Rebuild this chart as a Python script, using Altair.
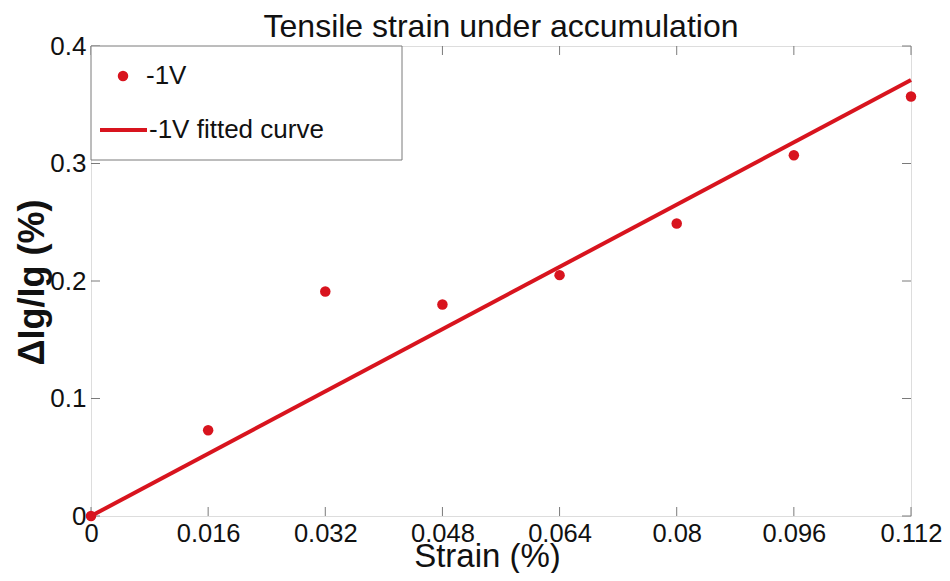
import altair as alt
import pandas as pd

# ---- data ----
strain = [0, 0.016, 0.032, 0.048, 0.064, 0.08, 0.096, 0.112]
delta_ig = [0, 0.073, 0.191, 0.180, 0.205, 0.249, 0.307, 0.357]
fit_strain = [0, 0.112]
fit_delta = [0, 0.371]
x_ticks = [0, 0.016, 0.032, 0.048, 0.064, 0.08, 0.096, 0.112]
y_ticks = [0, 0.1, 0.2, 0.3, 0.4]
series_names = ["-1V", "-1V fitted curve"]

RED = "#d8141e"
GREY = "#7a7a7a"
FONT = "Liberation Sans"
W, H = 820, 470

pts = pd.DataFrame({"strain": strain, "d": delta_ig})
fit = pd.DataFrame({"strain": fit_strain, "d": fit_delta})
xt = pd.DataFrame({"v": x_ticks})
yt = pd.DataFrame({"v": y_ticks})
one = pd.DataFrame({"a": [0]})

xscale = alt.Scale(domain=[0, 0.112], nice=False, zero=False)
yscale = alt.Scale(domain=[0, 0.4], nice=False, zero=False)

xaxis = alt.Axis(values=x_ticks, labelExpr="'' + datum.value", tickSize=0, grid=False,
                 domain=False, labelFontSize=25.5, labelFont=FONT, labelColor="#111",
                 labelPadding=5, labelFlush=False,
                 title="Strain (%)", titleFontSize=33, titleFont=FONT,
                 titleFontWeight="normal", titleColor="#111",
                 titleX=396, titleY=50, titleAlign="center", titleBaseline="alphabetic")
yaxis = alt.Axis(values=y_ticks, labelExpr="'' + datum.value", tickSize=0, grid=False,
                 domain=False, labelFontSize=26, labelFont=FONT, labelColor="#111",
                 labelPadding=5, labelFlush=False,
                 title="ΔIg/Ig (%)", titleFontSize=36, titleFont=FONT,
                 titleFontWeight="bold", titleColor="#111",
                 titleX=-48, titleY=236, titleAlign="center", titleBaseline="alphabetic",
                 titleAngle=270)

points = alt.Chart(pts).mark_point(filled=True, size=110, color=RED, opacity=1).encode(
    x=alt.X("strain:Q", scale=xscale, axis=xaxis),
    y=alt.Y("d:Q", scale=yscale, axis=yaxis),
)
line = alt.Chart(fit).mark_line(color=RED, strokeWidth=4).encode(
    x=alt.X("strain:Q", scale=xscale),
    y=alt.Y("d:Q", scale=yscale),
)

tb = alt.Chart(xt).mark_rule(color=GREY, strokeWidth=1).encode(
    x=alt.X("v:Q", scale=xscale), y=alt.value(H), y2=alt.value(H - 9))
tt = alt.Chart(xt).mark_rule(color=GREY, strokeWidth=1).encode(
    x=alt.X("v:Q", scale=xscale), y=alt.value(0), y2=alt.value(9))
tl = alt.Chart(yt).mark_rule(color=GREY, strokeWidth=1).encode(
    y=alt.Y("v:Q", scale=yscale), x=alt.value(0), x2=alt.value(9))
tr = alt.Chart(yt).mark_rule(color=GREY, strokeWidth=1).encode(
    y=alt.Y("v:Q", scale=yscale), x=alt.value(W), x2=alt.value(W - 9))

# ---- legend box (top-left, inside the plot) ----
lbox = alt.Chart(one).mark_rect(fill="white", stroke=GREY, strokeWidth=1).encode(
    x=alt.value(0), x2=alt.value(311), y=alt.value(0), y2=alt.value(114))
ldot = alt.Chart(one).mark_point(filled=True, size=110, color=RED, opacity=1).encode(
    x=alt.value(32), y=alt.value(30))
ltxt1 = alt.Chart(one).mark_text(text=series_names[0], align="left", baseline="middle",
                                 font=FONT, fontSize=26, color="#111").encode(
    x=alt.value(55), y=alt.value(30))
lline = alt.Chart(one).mark_rule(color=RED, strokeWidth=4).encode(
    x=alt.value(9), x2=alt.value(56), y=alt.value(84))
ltxt2 = alt.Chart(one).mark_text(text=series_names[1], align="left", baseline="middle",
                                 font=FONT, fontSize=26, color="#111").encode(
    x=alt.value(58), y=alt.value(84))

chart = alt.layer(tb, tt, tl, tr, line, points, lbox, ldot, ltxt1, lline, ltxt2).properties(
    width=W, height=H,
    title=alt.TitleParams("Tensile strain under accumulation", fontSize=32, font=FONT,
                          fontWeight="normal", color="#111", anchor="middle", offset=-11),
    autosize=alt.AutoSizeParams(type="none"),
    padding={"left": 83, "top": 38, "right": 31, "bottom": 57},
).configure_view(stroke=GREY, strokeWidth=1).configure(background="white")

chart.save("out.html", embed_options={"renderer": "svg", "actions": False})
